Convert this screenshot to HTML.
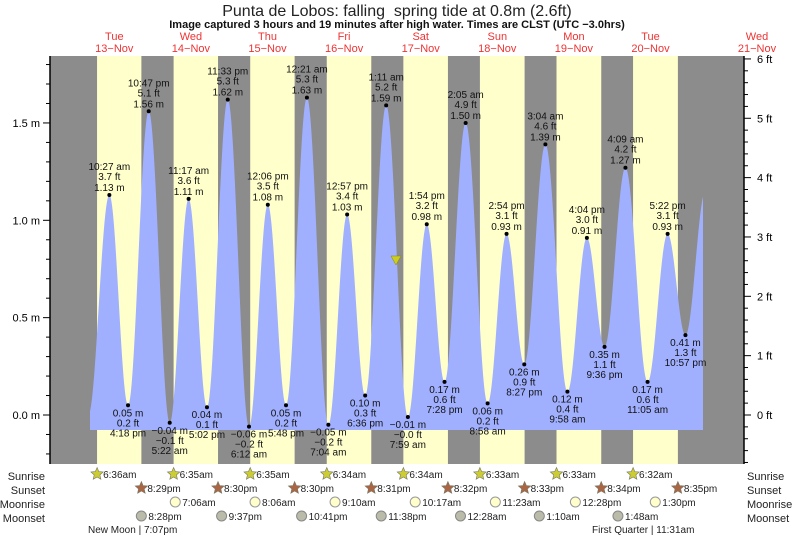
<!DOCTYPE html>
<html><head><meta charset="utf-8"><style>
body{margin:0;background:#fff;}
svg text{font-family:"Liberation Sans",sans-serif;}
</style></head><body>
<svg id="s" width="793" height="538" xmlns="http://www.w3.org/2000/svg">
<text x="397" y="16" font-size="16" text-anchor="middle" fill="#222">Punta de Lobos: falling &#160;spring tide at 0.8m (2.6ft)</text>
<text x="397" y="28" font-size="11" font-weight="bold" text-anchor="middle" fill="#111">Image captured 3 hours and 19 minutes after high water. Times are CLST (UTC −3.0hrs)</text>
<g id="g"></g>
</svg>
<script>
var g=document.getElementById('g'),h='';
var X0=76,PH=76.6/24,Y0=415,PM=194.7;
function X(t){return X0+t*PH;}function Y(m){return Y0-m*PM;}
function tm(s,d){var p=s.match(/(\d+):(\d+)\s*(am|pm)/),hh=+p[1]%12;if(p[3]=='pm')hh+=12;return d*24+hh+(+p[2])/60;}
h+='<rect x="50" y="56" width="694" height="408" fill="#8c8c8c"/>';
var sr=["6:36am","6:35am","6:35am","6:34am","6:34am","6:33am","6:33am","6:32am"],ss=["8:29pm","8:30pm","8:30pm","8:31pm","8:32pm","8:33pm","8:34pm","8:35pm"];
for(var d=0;d<8;d++){var a=X(tm(sr[d],d)),b=X(tm(ss[d],d));h+='<rect x="'+a+'" y="56" width="'+(b-a)+'" height="408" fill="#ffffcc"/>';}
var E=[["3:50am",0,0.0],["10:27am",0,1.13],["4:18pm",0,0.05],["10:47pm",0,1.56],["5:22am",1,-0.04],["11:17am",1,1.11],["5:02pm",1,0.04],["11:33pm",1,1.62],["6:12am",2,-0.06],["12:06pm",2,1.08],["5:48pm",2,0.05],["12:21am",3,1.63],["7:04am",3,-0.05],["12:57pm",3,1.03],["6:36pm",3,0.10],["1:11am",4,1.59],["7:59am",4,-0.01],["1:54pm",4,0.98],["7:28pm",4,0.17],["2:05am",5,1.50],["8:58am",5,0.06],["2:54pm",5,0.93],["8:27pm",5,0.26],["3:04am",6,1.39],["9:58am",6,0.12],["4:04pm",6,0.91],["9:36pm",6,0.35],["4:09am",7,1.27],["11:05am",7,0.17],["5:22pm",7,0.93],["10:57pm",7,0.41],["5:15am",8,1.15]];
var T=E.map(function(e){return tm(e[0],e[1]);});
var xs=90,xe=703,pts=[];
for(var x=xs;x<=xe;x+=0.5){var t=(x-X0)/PH,i=0;while(i<T.length-2&&T[i+1]<t)i++;var f=(t-T[i])/(T[i+1]-T[i]);f=Math.max(0,Math.min(1,f));var m=E[i][2]+(E[i+1][2]-E[i][2])*(1-Math.cos(Math.PI*f))/2;pts.push(x.toFixed(1)+','+Y(m).toFixed(1));}
h+='<path d="M'+xs+',430 L'+pts.join(' L')+' L'+xe+',430 Z" fill="#a0b0ff"/>';
for(var i=1;i<E.length-1;i++){var x=X(T[i]),y=Y(E[i][2]),m=E[i][2],ft=(m/0.3048).toFixed(1);var ms=(m<0?'−':'')+Math.abs(m).toFixed(2)+' m',fs=(m<0?'−':'')+Math.abs(ft).toFixed(1)+' ft';if(ms=='−0.01 m')fs='−0.0 ft';
h+='<circle cx="'+x+'" cy="'+y+'" r="2" fill="#000"/>';var hi=E[i][2]>E[i-1][2];var tt=E[i][0].replace(/(am|pm)/,' $1');
if(hi){h+='<text x="'+x+'" font-size="10" text-anchor="middle" fill="#111"><tspan x="'+x+'" y="'+(y-25)+'">'+tt+'</tspan><tspan x="'+x+'" y="'+(y-15)+'">'+fs+'</tspan><tspan x="'+x+'" y="'+(y-4)+'">'+ms+'</tspan></text>';}
else{h+='<text font-size="10" text-anchor="middle" fill="#111"><tspan x="'+x+'" y="'+(y+11)+'">'+ms+'</tspan><tspan x="'+x+'" y="'+(y+21)+'">'+fs+'</tspan><tspan x="'+x+'" y="'+(y+31)+'">'+tt+'</tspan></text>';}}
h+='<line x1="50" y1="56" x2="50" y2="464" stroke="#000" stroke-width="1.5"/><line x1="744" y1="56" x2="744" y2="464" stroke="#000" stroke-width="1.5"/>';
for(var k=-2;k<=18;k++){var y=Y(k/10);if(y<56||y>464)continue;var maj=k%5==0;h+='<line x1="'+(maj?43:46)+'" y1="'+y+'" x2="50" y2="'+y+'" stroke="#000"/>';if(maj)h+='<text x="40" y="'+(y+4)+'" font-size="11" text-anchor="end">'+(k/10).toFixed(1)+' m</text>';}
for(var k=-7;k<=30;k++){var y=Y(k*0.2*0.3048);if(y<56||y>464)continue;var maj=k%5==0;h+='<line x1="744" y1="'+y+'" x2="'+(maj?751:748)+'" y2="'+y+'" stroke="#000"/>';if(maj)h+='<text x="757" y="'+(y+4)+'" font-size="11">'+(k/5)+' ft</text>';}
var dn=["Tue","Wed","Thu","Fri","Sat","Sun","Mon","Tue","Wed"];
for(var d=0;d<9;d++){var x=X(d*24+12);if(d==8)x=757;h+='<text x="'+x+'" y="40" font-size="11" fill="#e33" text-anchor="middle">'+dn[d]+'</text><text x="'+x+'" y="52" font-size="11" fill="#e33" text-anchor="middle">'+(13+d)+'−Nov</text>';}
h+='<polygon points="391,256 401,256 396,265" fill="#cccc22" stroke="#888800" stroke-width="0.5"/>';
var L=[["Sunrise",476],["Sunset",490],["Moonrise",504],["Moonset",518]];
L.forEach(function(l){h+='<text x="45" y="'+(l[1]+4)+'" font-size="11" text-anchor="end" fill="#222">'+l[0]+'</text><text x="747" y="'+(l[1]+4)+'" font-size="11" fill="#222">'+l[0]+'</text>';});
function star(x,y,c){var p=[];for(var i=0;i<10;i++){var r=i%2?3:6.5,a=Math.PI*i/5-Math.PI/2;p.push((x+r*Math.cos(a)).toFixed(1)+','+(y+r*Math.sin(a)).toFixed(1));}return '<polygon points="'+p.join(' ')+'" fill="'+c+'" stroke="#776" stroke-width="0.6"/>';}
for(var d=0;d<8;d++){var x=X(tm(sr[d],d));h+=star(x,474,'#cccc33')+'<text x="'+(x+6)+'" y="478" font-size="10" fill="#222">'+sr[d]+'</text>';x=X(tm(ss[d],d));h+=star(x,488,'#aa6644')+'<text x="'+(x+6)+'" y="492" font-size="10" fill="#222">'+ss[d]+'</text>';}
var mr=[["7:06am",1],["8:06am",2],["9:10am",3],["10:17am",4],["11:23am",5],["12:28pm",6],["1:30pm",7]],ms=[["8:28pm",0],["9:37pm",1],["10:41pm",2],["11:38pm",3],["12:28am",5],["1:10am",6],["1:48am",7]];
mr.forEach(function(m){var x=X(tm(m[0],m[1]));h+='<circle cx="'+x+'" cy="502" r="5" fill="#ffffcc" stroke="#999"/><text x="'+(x+7)+'" y="506" font-size="10" fill="#222">'+m[0]+'</text>';});
ms.forEach(function(m){var x=X(tm(m[0],m[1]));h+='<circle cx="'+x+'" cy="516" r="5" fill="#bbbbaa" stroke="#888"/><text x="'+(x+7)+'" y="520" font-size="10" fill="#222">'+m[0]+'</text>';});
h+='<text x="88" y="533" font-size="10" fill="#222">New Moon | 7:07pm</text><text x="592" y="533" font-size="10" fill="#222">First Quarter | 11:31am</text>';
g.innerHTML=h;
</script>
</body></html>
